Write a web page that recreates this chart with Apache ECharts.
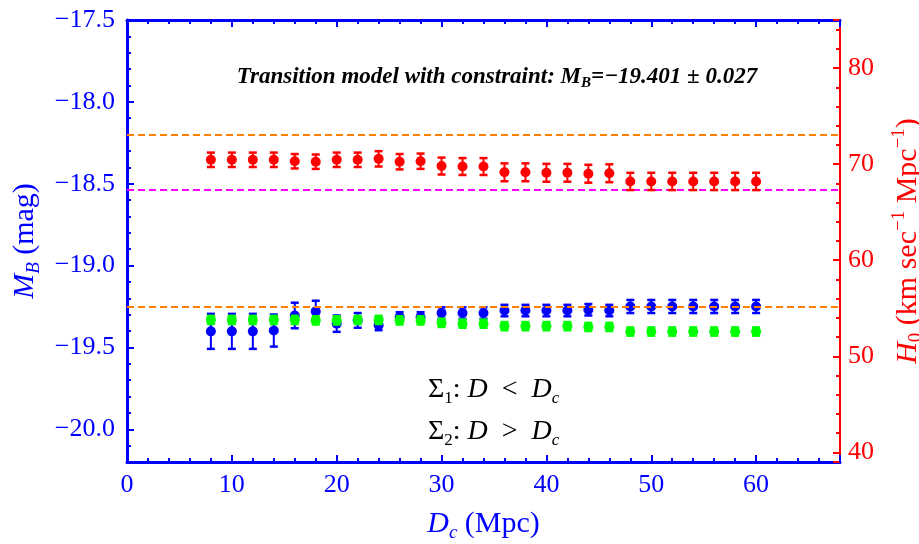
<!DOCTYPE html>
<html>
<head>
<meta charset="utf-8">
<script src="https://cdn.jsdelivr.net/npm/echarts@6/dist/echarts.min.js"></script>
<style>
  html, body { margin: 0; padding: 0; background: #ffffff; }
  #chart { width: 919px; height: 544px; }
</style>
</head>
<body>
<div id="chart"></div>
<script>
// Critical distance D_c (Mpc) at which the sample is split
const distances = [8, 10, 12, 14, 16, 18, 20, 22, 24, 26, 28, 30, 32, 34, 36, 38, 40, 42, 44, 46, 48, 50, 52, 54, 56, 58, 60];

// Sigma_1 (D < D_c): absolute magnitude M_B and its error
const sigma1MB = [-19.402, -19.402, -19.402, -19.397, -19.305, -19.28, -19.355, -19.335, -19.365, -19.315, -19.315,
                  -19.29, -19.29, -19.29, -19.275, -19.275, -19.275, -19.275, -19.27, -19.275,
                  -19.25, -19.25, -19.25, -19.25, -19.25, -19.25, -19.25];
const sigma1Err = [0.107, 0.107, 0.107, 0.098, 0.078, 0.065, 0.05, 0.045, 0.03, 0.03, 0.03,
                   0.035, 0.035, 0.035, 0.035, 0.035, 0.035, 0.035, 0.035, 0.035,
                   0.04, 0.04, 0.04, 0.04, 0.04, 0.04, 0.04];

// Sigma_2 (D > D_c): absolute magnitude M_B and its error
const sigma2MB = [-19.332, -19.332, -19.332, -19.332, -19.332, -19.335, -19.335, -19.332, -19.332, -19.335, -19.335,
                  -19.35, -19.355, -19.355, -19.37, -19.37, -19.37, -19.37, -19.375, -19.375,
                  -19.403, -19.403, -19.403, -19.403, -19.403, -19.403, -19.403];
const sigma2Err = [0.025, 0.025, 0.025, 0.025, 0.025, 0.025, 0.025, 0.025, 0.025, 0.025, 0.025,
                   0.025, 0.025, 0.025, 0.025, 0.025, 0.025, 0.025, 0.025, 0.025,
                   0.025, 0.025, 0.025, 0.025, 0.025, 0.025, 0.025];

// Hubble constant H_0 (km/s/Mpc) and its error
const hubbleH0 = [70.45, 70.45, 70.45, 70.45, 70.3, 70.25, 70.45, 70.45, 70.55, 70.25, 70.3,
                  69.8, 69.75, 69.75, 69.15, 69.15, 69.1, 69.1, 69.0, 69.05,
                  68.2, 68.2, 68.2, 68.2, 68.2, 68.2, 68.2];
const hubbleErr = [0.75, 0.75, 0.75, 0.75, 0.75, 0.75, 0.75, 0.75, 0.8, 0.8, 0.8,
                   0.88, 0.88, 0.88, 0.93, 0.93, 0.93, 0.93, 0.93, 0.93,
                   0.9, 0.9, 0.9, 0.9, 0.9, 0.9, 0.9];

// Reference values drawn as dashed lines
const h0Shoes = 73.04;
const h0Planck = 67.3;
const mbReference = -19.25;

const BLUE = '#0000ff';
const RED = '#ff0000';
const GREEN = '#00ff00';
const ORANGE = '#ff8000';
const MAGENTA = '#ff00ff';
const SERIF = '"Liberation Serif", "DejaVu Serif", serif';

function pointsOf(values) {
  return distances.map((d, i) => [d, values[i]]);
}
function barsOf(values, errs) {
  return distances.map((d, i) => [d, values[i] - errs[i], values[i] + errs[i]]);
}

function errorBar(color) {
  return function (params, api) {
    const x = api.value(0);
    const lo = api.coord([x, api.value(1)]);
    const hi = api.coord([x, api.value(2)]);
    const half = 4;
    const stem = { stroke: color, lineWidth: 2 };
    const cap = { stroke: color, lineWidth: 2.5 };
    return {
      type: 'group',
      children: [
        { type: 'line', shape: { x1: lo[0], y1: lo[1], x2: hi[0], y2: hi[1] }, style: stem },
        { type: 'line', shape: { x1: lo[0] - half, y1: lo[1], x2: lo[0] + half, y2: lo[1] }, style: cap },
        { type: 'line', shape: { x1: hi[0] - half, y1: hi[1], x2: hi[0] + half, y2: hi[1] }, style: cap }
      ]
    };
  };
}

function richFor(color, size) {
  return {
    n: { fontFamily: SERIF, fontSize: size, color: color, lineHeight: size + 6 },
    i: { fontFamily: SERIF, fontSize: size, fontStyle: 'italic', color: color, lineHeight: size + 6 },
    sub: { fontFamily: SERIF, fontSize: Math.round(size * 0.62), color: color, verticalAlign: 'bottom', lineHeight: size + 6 },
    isub: { fontFamily: SERIF, fontSize: Math.round(size * 0.62), fontStyle: 'italic', color: color, verticalAlign: 'bottom', lineHeight: size + 6 },
    sup: { fontFamily: SERIF, fontSize: Math.round(size * 0.62), color: color, verticalAlign: 'top', lineHeight: size + 6 }
  };
}

function minusFmt(digits) {
  return function (v) {
    return (v < 0 ? '\u2212' : '') + Math.abs(v).toFixed(digits);
  };
}

const chart = echarts.init(document.getElementById('chart'), null, { renderer: 'canvas' });

const tickFont = 26;
const nameFont = 30;

const option = {
  animation: false,
  backgroundColor: '#ffffff',
  grid: { left: 127, right: 79, top: 20, bottom: 82, containLabel: false, outerBoundsMode: 'none' },
  xAxis: [
    {
      type: 'value', position: 'bottom', min: 0, max: 68, interval: 10,
      axisLine: { show: true, onZero: false, lineStyle: { color: BLUE, width: 3 } },
      axisTick: { show: true, inside: true, length: 7, lineStyle: { color: BLUE, width: 2 } },
      minorTick: { show: true, splitNumber: 5, length: 4, lineStyle: { color: BLUE, width: 2 } },
      splitLine: { show: false },
      axisLabel: { color: BLUE, fontFamily: SERIF, fontSize: tickFont, margin: 10, showMaxLabel: false },
      name: '{i|D}{isub|c}{n| (Mpc)}',
      nameLocation: 'middle', nameGap: 44,
      nameTextStyle: { rich: richFor(BLUE, nameFont) }
    },
    {
      type: 'value', position: 'top', min: 0, max: 68, interval: 10,
      axisLine: { show: true, onZero: false, lineStyle: { color: BLUE, width: 3 } },
      axisTick: { show: true, inside: true, length: 7, lineStyle: { color: BLUE, width: 2 } },
      minorTick: { show: true, splitNumber: 5, length: 4, lineStyle: { color: BLUE, width: 2 } },
      splitLine: { show: false },
      axisLabel: { show: false }
    }
  ],
  yAxis: [
    {
      type: 'value', position: 'left', min: -20.2, max: -17.5,
      axisLine: { show: true, onZero: false, lineStyle: { color: BLUE, width: 3 } },
      axisTick: { show: true, inside: true, length: 7, lineStyle: { color: BLUE, width: 2 } },
      minorTick: { show: true, splitNumber: 5, length: 4, lineStyle: { color: BLUE, width: 2 } },
      splitLine: { show: false },
      axisLabel: { color: BLUE, fontFamily: SERIF, fontSize: tickFont, margin: 12, showMinLabel: false, formatter: minusFmt(1) },
      name: '{i|M}{isub|B}{n| (mag)}',
      nameLocation: 'middle', nameRotate: 90, nameGap: 84,
      nameTextStyle: { rich: richFor(BLUE, nameFont) }
    },
    {
      type: 'value', position: 'right', min: 39, max: 85,
      axisLine: { show: true, onZero: false, lineStyle: { color: RED, width: 2 } },
      axisTick: { show: true, inside: true, length: 7, lineStyle: { color: RED, width: 2 } },
      minorTick: { show: true, splitNumber: 5, length: 4, lineStyle: { color: RED, width: 2 } },
      splitLine: { show: false },
      axisLabel: { color: RED, fontFamily: SERIF, fontSize: tickFont, margin: 8, showMinLabel: false, showMaxLabel: false },
      name: '{i|H}{sub|0}{n| (km sec}{sup|\u22121}{n| Mpc}{sup|\u22121}{n|)}',
      nameLocation: 'middle', nameRotate: 90, nameGap: 50,
      nameTextStyle: { rich: richFor(RED, nameFont) }
    }
  ],
  series: [
    {
      name: 'sigma1-err', type: 'custom', xAxisIndex: 0, yAxisIndex: 0, z: 2,
      renderItem: errorBar(BLUE), data: barsOf(sigma1MB, sigma1Err), silent: true
    },
    {
      name: 'sigma1', type: 'scatter', xAxisIndex: 0, yAxisIndex: 0, z: 3,
      symbol: 'circle', symbolSize: 10, itemStyle: { color: BLUE, opacity: 1 },
      data: pointsOf(sigma1MB), silent: true
    },
    {
      name: 'sigma2-err', type: 'custom', xAxisIndex: 0, yAxisIndex: 0, z: 4,
      renderItem: errorBar(GREEN), data: barsOf(sigma2MB, sigma2Err), silent: true
    },
    {
      name: 'sigma2', type: 'scatter', xAxisIndex: 0, yAxisIndex: 0, z: 5,
      symbol: 'circle', symbolSize: 10, itemStyle: { color: GREEN, opacity: 1 },
      data: pointsOf(sigma2MB), silent: true
    },
    {
      name: 'h0-err', type: 'custom', xAxisIndex: 0, yAxisIndex: 1, z: 6,
      renderItem: errorBar(RED), data: barsOf(hubbleH0, hubbleErr), silent: true
    },
    {
      name: 'h0', type: 'scatter', xAxisIndex: 0, yAxisIndex: 1, z: 7,
      symbol: 'circle', symbolSize: 10, itemStyle: { color: RED, opacity: 1 },
      data: pointsOf(hubbleH0), silent: true
    },
    {
      name: 'h0-ref', type: 'line', xAxisIndex: 0, yAxisIndex: 1, z: 10, data: [],
      markLine: {
        silent: true, symbol: 'none', label: { show: false }, animation: false,
        data: [
          { yAxis: h0Shoes, lineStyle: { color: ORANGE, type: [7, 4], width: 2 } },
          { yAxis: h0Planck, lineStyle: { color: MAGENTA, type: [7, 4], width: 2 } }
        ]
      }
    },
    {
      name: 'mb-ref', type: 'line', xAxisIndex: 0, yAxisIndex: 0, z: 10, data: [],
      markLine: {
        silent: true, symbol: 'none', label: { show: false }, animation: false,
        data: [
          { yAxis: mbReference, lineStyle: { color: ORANGE, type: [7, 4], width: 2 } }
        ]
      }
    }
  ],
  graphic: [
    {
      type: 'text', x: 497, y: 77, z: 20,
      style: {
        text: '{b|Transition model with constraint: M}{bs|B}{b|=\u221219.401 \u00b1 0.027}',
        textAlign: 'center', textVerticalAlign: 'middle',
        rich: {
          b: { fontFamily: SERIF, fontSize: 23, fontWeight: 'bold', fontStyle: 'italic', fill: '#000000', lineHeight: 27 },
          bs: { fontFamily: SERIF, fontSize: 15, fontWeight: 'bold', fontStyle: 'italic', fill: '#000000', verticalAlign: 'bottom', lineHeight: 27 }
        }
      }
    },
    {
      type: 'text', x: 428, y: 390, z: 20,
      style: {
        text: '{n|\u03a3}{sub|1}{n|: }{i|D}{n|  <  }{i|D}{isub|c}',
        textAlign: 'left', textVerticalAlign: 'middle',
        rich: richFor(BLUE, 28)
      }
    },
    {
      type: 'text', x: 428, y: 432, z: 20,
      style: {
        text: '{n|\u03a3}{sub|2}{n|: }{i|D}{n|  >  }{i|D}{isub|c}',
        textAlign: 'left', textVerticalAlign: 'middle',
        rich: richFor(GREEN, 28)
      }
    }
  ]
};

chart.setOption(option);
</script>
</body>
</html>
